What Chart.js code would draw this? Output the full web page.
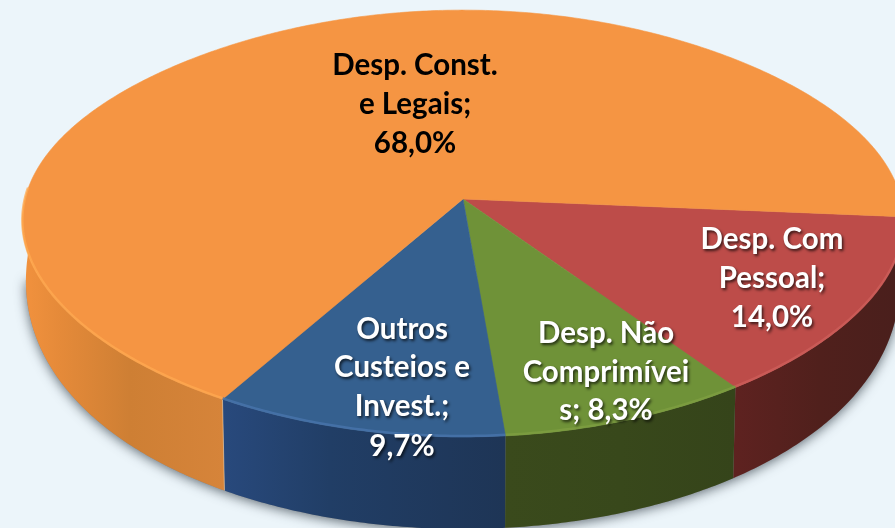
<!DOCTYPE html>
<html>
<head>
<meta charset="utf-8">
<script src="https://cdn.jsdelivr.net/npm/chart.js@4/dist/chart.umd.min.js"></script>
<style>
html,body{margin:0;padding:0;background:#ECF5FA;overflow:hidden}
#c{display:block}
</style>
</head>
<body>
<canvas id="c" width="895" height="528"></canvas>
<script>
// ---- data ----
const categories = ["Desp. Com Pessoal", "Desp. Não Comprimíveis", "Outros Custeios e Invest.", "Desp. Const. e Legais"];
const seriesValues = [14.0, 8.3, 9.7, 68.0];
const labelLines = [
  ["Desp. Com", "Pessoal;", "14,0%"],
  ["Desp. Não", "Comprimívei", "s; 8,3%"],
  ["Outros", "Custeios e", "Invest.;", "9,7%"],
  ["Desp. Const.", "e Legais;", "68,0%"]
];

// ---- styles ----
const topColors = ["#BD4C49", "#6F9238", "#35608F", "#F59543"];
const rimColors = ["#CF5F5B", "#7F9F42", "#4A75AD", "#FFA950"];
const wallStops = [
  [[735, "#5E2220"], [820, "#50201C"], [895, "#4A1F1C"]],
  [[505, "#3A4A1C"], [620, "#38481B"], [735, "#35441A"]],
  [[224, "#28497C"], [330, "#213E66"], [505, "#1E3556"]],
  [[22, "#F2923E"], [60, "#E58A39"], [130, "#CE7F34"], [224, "#D6843A"]]
];
const labelColors = ["#FFFFFF", "#FFFFFF", "#FFFFFF", "#000000"];
const labelCenters = [[772, [239, 278, 317]], [606, [333, 372, 410]], [402, [329, 367, 406, 446]], [415, [65, 104, 143]]];

// perspective of the disc
const view = { ax: 463, ay: 199, sx: 438, sy: 210.6, k: -0.115, pinch: 0.015, wallMax: 92, wallDrop: 40 };

function project(theta) {
  const c = Math.cos(theta), s = Math.sin(theta), w = 1 + view.k * s;
  const r = 1 - view.pinch * Math.pow(Math.sin(2 * theta), 2);
  return [view.ax + r * view.sx * c / w, view.ay + r * view.sy * s / w];
}
function projectLow(theta) {
  const p = project(theta), d = view.wallMax - view.wallDrop * Math.pow(1 - Math.sin(theta), 2);
  return [view.ax + (p[0] - view.ax) * 0.992, p[1] + d];
}
function samples(a, b) {
  const n = Math.max(2, Math.ceil((b - a) / 0.01)), out = [];
  for (let i = 0; i <= n; i++) out.push(a + (b - a) * i / n);
  return out;
}

const pie3d = {
  id: "pie3d",
  beforeDatasetsDraw(chart) {
    const ctx = chart.ctx;
    const arcs = chart.getDatasetMeta(0).data;
    const W0 = -0.05, W1 = Math.PI + 0.05;

    // drop shadow under the disc
    ctx.save();
    ctx.shadowColor = "rgba(50,60,70,0.75)";
    ctx.shadowBlur = 12;
    ctx.shadowOffsetX = 0;
    ctx.shadowOffsetY = 2;
    ctx.fillStyle = "#888";
    ctx.beginPath();
    samples(0.1, Math.PI - 0.1).forEach((t, i) => { const p = projectLow(t); i ? ctx.lineTo(p[0], p[1]) : ctx.moveTo(p[0], p[1]); });
    ctx.closePath();
    ctx.fill();
    ctx.restore();

    // side walls
    arcs.forEach((arc, i) => {
      const ranges = [[arc.startAngle, arc.endAngle], [arc.startAngle - 2 * Math.PI, arc.endAngle - 2 * Math.PI]];
      ranges.forEach(([a0, b0]) => {
        const a = Math.max(a0, W0), b = Math.min(b0, W1);
        if (b <= a) return;
        const g = ctx.createLinearGradient(0, 0, 895, 0);
        wallStops[i].forEach(([x, col]) => g.addColorStop(Math.min(1, x / 895), col));
        ctx.fillStyle = g;
        ctx.beginPath();
        samples(a, b).forEach((t, n) => { const p = project(t); n ? ctx.lineTo(p[0], p[1]) : ctx.moveTo(p[0], p[1]); });
        samples(a, b).reverse().forEach(t => { const p = projectLow(t); ctx.lineTo(p[0], p[1]); });
        ctx.closePath();
        ctx.fill();
      });
    });

    // pale seam between orange and blue wall
    const seam = arcs[3].startAngle, s0 = project(seam), s1 = projectLow(seam);
    ctx.strokeStyle = "rgba(240,215,180,0.55)";
    ctx.lineWidth = 1;
    ctx.beginPath(); ctx.moveTo(s0[0], s0[1]); ctx.lineTo(s1[0], s1[1]); ctx.stroke();

    // top faces
    arcs.forEach((arc, i) => {
      ctx.fillStyle = topColors[i];
      ctx.strokeStyle = topColors[i];
      ctx.lineWidth = 0.6;
      ctx.beginPath();
      ctx.moveTo(view.ax, view.ay);
      samples(arc.startAngle, arc.endAngle).forEach(t => { const p = project(t); ctx.lineTo(p[0], p[1]); });
      ctx.closePath();
      ctx.fill();
      ctx.stroke();
    });

    // bevel highlight along the front rim
    ctx.save();
    ctx.lineCap = "butt";
    arcs.forEach((arc, i) => {
      const a = Math.max(arc.startAngle, -0.1), b = Math.min(arc.endAngle, Math.PI + 0.05);
      if (b <= a) return;
      ctx.strokeStyle = rimColors[i];
      ctx.globalAlpha = 0.75;
      ctx.lineWidth = 2.5;
      ctx.beginPath();
      samples(a, b).forEach((t, n) => { const p = project(t); n ? ctx.lineTo(p[0], p[1] - 1) : ctx.moveTo(p[0], p[1] - 1); });
      ctx.stroke();
    });
    ctx.restore();
    return false;
  },
  afterDraw(chart) {
    const ctx = chart.ctx;
    ctx.save();
    ctx.font = "700 29.5px Lato, 'Open Sans', sans-serif";
    ctx.textAlign = "center";
    ctx.textBaseline = "middle";
    labelLines.forEach((lines, i) => {
      const [cx, ys] = labelCenters[i];
      ctx.fillStyle = labelColors[i];
      if (labelColors[i] === "#FFFFFF") {
        ctx.shadowColor = "rgba(0,0,0,0.7)";
        ctx.shadowBlur = 3;
        ctx.shadowOffsetX = 1.5;
        ctx.shadowOffsetY = 2;
      } else {
        ctx.shadowColor = "transparent";
        ctx.shadowBlur = 0;
        ctx.shadowOffsetX = 0;
        ctx.shadowOffsetY = 0;
      }
      lines.forEach((line, j) => ctx.fillText(line, cx, ys[j]));
    });
    ctx.restore();
  }
};

new Chart(document.getElementById("c"), {
  type: "pie",
  data: {
    labels: categories,
    datasets: [{ data: seriesValues, backgroundColor: topColors, borderWidth: 0 }]
  },
  options: {
    responsive: false,
    animation: false,
    rotation: 94.8,
    layout: { padding: 0 },
    plugins: { legend: { display: false }, tooltip: { enabled: false }, title: { display: false } }
  },
  plugins: [pie3d]
});
</script>
</body>
</html>
